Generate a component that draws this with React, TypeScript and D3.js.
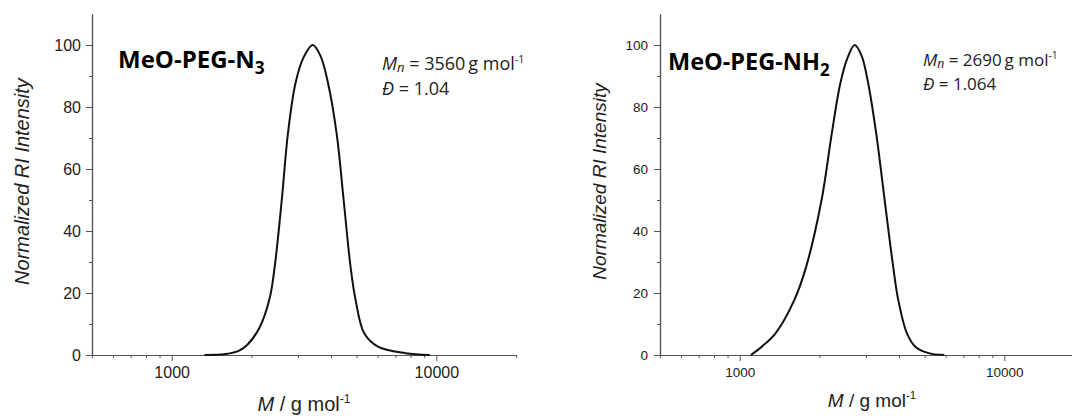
import React, { useEffect, useRef } from "react";
import * as d3 from "d3";

// GPC traces (M in g/mol, normalized RI intensity)
const massN3 = [1330, 1600, 1800, 1932, 2146, 2348, 2455, 2606, 2750, 2935, 3150, 3410, 3650, 3900, 4200, 4465, 4740, 4955, 5340, 6015, 7640, 9450];
const riN3 = [0, 0.3, 1.4, 3.3, 8.8, 18.5, 29, 50, 71.5, 87.6, 96, 100, 96.5, 87.6, 71.5, 50, 28.5, 17.7, 7, 2.7, 0.6, 0];

const massNH2 = [1103, 1213, 1366, 1608, 1784, 2039, 2229, 2400, 2560, 2720, 2890, 3060, 3280, 3530, 3802, 3975, 4285, 4612, 5190, 5935];
const riNH2 = [0, 2.7, 7, 17.7, 28.5, 50, 71.5, 87.6, 96, 100, 96.5, 87.6, 71.5, 50, 28.5, 17.7, 7, 2.7, 0.6, 0];

const massDomain = [500, 20000];
const riDomain = [0, 110];
const majorMass = [1000, 10000];
const minorMass = [500, 600, 700, 800, 900, 2000, 3000, 4000, 5000, 6000, 7000, 8000, 9000, 20000];
const majorRI = [0, 20, 40, 60, 80, 100];
const minorRI = [10, 30, 50, 70, 90];

const panels = [
  {
    mass: massN3, ri: riN3, title: "MeO-PEG-N", titleSub: "3", mn: "3560", dispersity: "1.04",
    x0: 92, tickFont: 16, labelFont: 20, yLabelX: 28.5, xLabelY: 411, yTickPad: 5,
    titleX: 118, titleY: 68, titleFont: 24, noteX: 382, noteY: 70, noteGap: 25, noteFont: 18,
  },
  {
    mass: massNH2, ri: riNH2, title: "MeO-PEG-NH", titleSub: "2", mn: "2690", dispersity: "1.064",
    x0: 660, tickFont: 13.5, labelFont: 19, yLabelX: 606, xLabelY: 407, yTickPad: 6,
    titleX: 668, titleY: 70, titleFont: 23.5, noteX: 923, noteY: 66, noteGap: 23.5, noteFont: 17,
  },
];

const AXIS_FONT = "'Liberation Sans', Arial, sans-serif";
const NOTE_FONT = "'Open Sans', 'Noto Sans', sans-serif";

const drawPanel = (svg, p) => {
  const x = d3.scaleLog().domain(massDomain).range([p.x0, p.x0 + 424]);
  const y = d3.scaleLinear().domain(riDomain).range([355, 14]);
  const g = svg.append("g");

  const styleAxis = (sel) => {
    sel.select(".domain").attr("stroke", "#555").attr("stroke-width", 1.2);
    sel.selectAll(".tick line").attr("stroke", "#555").attr("stroke-width", 1);
    sel.selectAll(".tick text").attr("fill", "#222").style("font-family", AXIS_FONT).style("font-size", p.tickFont + "px");
  };

  g.append("g").attr("transform", "translate(0,355)")
    .call(d3.axisBottom(x).tickValues(minorMass).tickSize(3).tickFormat(() => "").tickSizeOuter(0))
    .call(styleAxis);
  g.append("g").attr("transform", "translate(0,355)")
    .call(d3.axisBottom(x).tickValues(majorMass).tickSize(6).tickPadding(6).tickFormat(d3.format("d")).tickSizeOuter(0))
    .call(styleAxis);
  g.append("g").attr("transform", `translate(${p.x0},0)`)
    .call(d3.axisLeft(y).tickValues(minorRI).tickSize(3).tickFormat(() => "").tickSizeOuter(0))
    .call(styleAxis);
  g.append("g").attr("transform", `translate(${p.x0},0)`)
    .call(d3.axisLeft(y).tickValues(majorRI).tickSize(6).tickPadding(p.yTickPad).tickSizeOuter(0))
    .call(styleAxis);

  const line = d3.line()
    .x((d) => x(d[0]))
    .y((d) => Math.min(y(0), y(d[1])))
    .curve(d3.curveCatmullRom.alpha(0.5));
  g.append("path")
    .datum(d3.zip(p.mass, p.ri))
    .attr("d", line)
    .attr("fill", "none")
    .attr("stroke", "#111")
    .attr("stroke-width", 2);

  // axis titles
  g.append("text")
    .attr("transform", `translate(${p.yLabelX},${(y(0) + y(110)) / 2 - 3}) rotate(-90)`)
    .attr("text-anchor", "middle")
    .style("font-family", AXIS_FONT).style("font-size", p.labelFont + "px")
    .style("font-style", "italic").attr("fill", "#222")
    .text("Normalized RI Intensity");

  const xl = g.append("text")
    .attr("x", p.x0 + 212).attr("y", p.xLabelY)
    .attr("text-anchor", "middle")
    .style("font-family", AXIS_FONT).style("font-size", p.labelFont + "px").attr("fill", "#222");
  xl.append("tspan").style("font-style", "italic").text("M");
  xl.append("tspan").text(" / g mol");
  xl.append("tspan").attr("dy", -8).style("font-size", "0.6em").text("-1");

  // sample name
  const t = g.append("text")
    .attr("x", p.titleX).attr("y", p.titleY)
    .style("font-family", NOTE_FONT).style("font-size", p.titleFont + "px").style("font-weight", 700).attr("fill", "#000");
  t.append("tspan").text(p.title);
  t.append("tspan").attr("dy", 6).style("font-size", "0.72em").text(p.titleSub);

  // Mn and dispersity
  const n1 = g.append("text")
    .attr("x", p.noteX).attr("y", p.noteY)
    .style("font-family", NOTE_FONT).style("font-size", p.noteFont + "px").attr("fill", "#222");
  n1.append("tspan").style("font-style", "italic").text("M");
  n1.append("tspan").attr("dy", 2).style("font-style", "italic").style("font-size", "0.72em").text("n");
  n1.append("tspan").attr("dy", -2).text(` = ${p.mn}\u2009g mol`);
  n1.append("tspan").attr("dy", -7).style("font-size", "0.6em").text("-1");

  const n2 = g.append("text")
    .attr("x", p.noteX).attr("y", p.noteY + p.noteGap)
    .style("font-family", NOTE_FONT).style("font-size", p.noteFont + "px").attr("fill", "#222");
  n2.append("tspan").style("font-style", "italic").text("\u0110");
  n2.append("tspan").text(` = ${p.dispersity}`);
};

const App = () => {
  const ref = useRef(null);

  useEffect(() => {
    const svg = d3.select(ref.current);
    svg.selectAll("*").remove();
    panels.forEach((p) => drawPanel(svg, p));
  }, []);

  return (
    <svg
      ref={ref}
      width={1072}
      height={418}
      style={{ position: "absolute", left: 0, top: 0, background: "#fff" }}
    />
  );
};

export default App;
